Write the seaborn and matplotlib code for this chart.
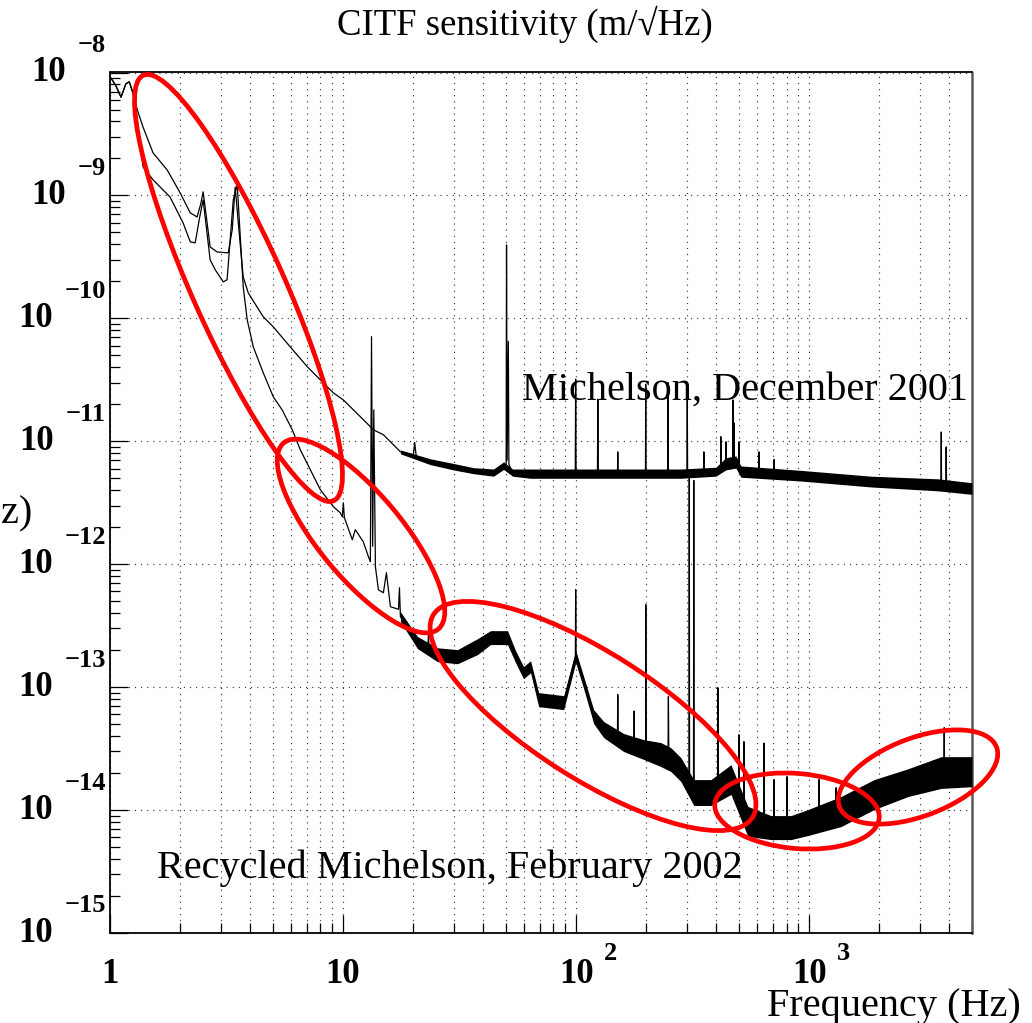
import matplotlib
matplotlib.use("Agg")
import matplotlib.pyplot as plt
import seaborn as sns
from matplotlib.patches import Ellipse
from matplotlib import transforms
from matplotlib.ticker import LogLocator, NullFormatter

# ---------------- data ----------------
mich_freq = [1.01, 1.06, 1.115, 1.17, 1.21, 1.255, 1.31, 1.386, 1.53, 1.76, 2.0, 2.21, 2.365, 2.45, 2.51,
             2.585, 2.69, 2.88, 3.215, 3.345, 3.445, 3.6, 3.73, 3.92, 4.545, 5.02, 5.935, 7.025, 7.99,
             9.085, 10.03, 12.22, 13.5, 14.9, 17.63, 20.05, 20.3, 20.6, 23.72, 29.79, 36.3, 44.25, 48.86,
             50.1, 50.3, 50.6, 51.2, 51.5, 53.4, 56.1, 63.8, 99.2, 99.6, 100.0, 123.5, 124, 124.5,
             150.5, 151, 151.5, 198.5, 199, 199.5, 247, 248, 249, 299, 300, 301, 352, 353.5, 355,
             398, 417, 418, 420, 438, 439.4, 441, 470, 471, 472, 475, 476, 477, 499, 500, 501, 510,
             608, 609, 610, 706, 707, 708, 923, 1845, 3581, 3680, 3690, 3700, 3860, 3874, 3890, 5000]
mich_amp = [9.0e-9, 7.8e-9, 6.3e-9, 8.1e-9, 8.4e-9, 6.8e-9, 4.95e-9, 3.6e-9, 2.22e-9, 1.61e-9, 1.05e-9,
            7.21e-10, 6.68e-10, 8.5e-10, 1.07e-9, 6.94e-10, 3.81e-10, 3.47e-10, 3.41e-10, 5.25e-10, 1.17e-9,
            4.5e-10, 2.17e-10, 1.61e-10, 1.03e-10, 8.53e-11, 5.86e-11, 4.04e-11, 3.16e-11, 2.48e-11,
            2.17e-11, 1.5e-11, 1.24e-11, 1.13e-11, 8.22e-12, 7.77e-12, 9.8e-12, 7.6e-12, 6.81e-12, 6.2e-12,
            5.65e-12, 5.54e-12, 6.2e-12, 6.5e-12, 3.96e-10, 7.0e-12, 6.5e-11, 6.5e-12, 5.54e-12, 5.44e-12,
            5.44e-12, 5.44e-12, 3.2e-11, 5.44e-12, 5.44e-12, 2.2e-11, 5.44e-12, 5.44e-12, 8.2e-12, 5.44e-12,
            5.44e-12, 2.9e-11, 5.44e-12, 5.44e-12, 3.0e-11, 5.44e-12, 5.44e-12, 2.3e-11, 5.44e-12, 5.44e-12,
            8.2e-12, 5.44e-12, 5.6e-12, 6.0e-12, 1.09e-11, 6.0e-12, 6.8e-12, 9.9e-12, 6.8e-12, 6.8e-12,
            2.17e-11, 6.8e-12, 6.8e-12, 1.41e-11, 6.8e-12, 6.3e-12, 9.9e-12, 6.0e-12, 5.6e-12, 5.4e-12,
            8.2e-12, 5.4e-12, 5.35e-12, 7.1e-12, 5.35e-12, 5.25e-12, 4.69e-12, 4.43e-12, 4.43e-12, 1.19e-11,
            4.43e-12, 4.4e-12, 9.0e-12, 4.4e-12, 4.11e-12]

mich_band_freq = [17.63, 23.72, 29.79, 36.3, 44.25, 48.86, 53.4, 63.8, 127.6, 281.5, 398, 439, 485, 510,
                  923, 1845, 3581, 5000]
mich_band_hi = [8.5e-12, 7.2e-12, 6.6e-12, 6.1e-12, 5.95e-12, 6.8e-12, 5.95e-12, 5.95e-12, 5.95e-12,
                5.95e-12, 6.15e-12, 7.35e-12, 7.6e-12, 6.3e-12, 5.8e-12, 5.2e-12, 4.95e-12, 4.6e-12]
mich_band_lo = [7.9e-12, 6.45e-12, 5.85e-12, 5.45e-12, 5.2e-12, 5.9e-12, 5.2e-12, 5.0e-12, 5.0e-12,
                5.0e-12, 5.2e-12, 5.85e-12, 6.05e-12, 5.1e-12, 4.75e-12, 4.25e-12, 3.95e-12, 3.7e-12]

rec_freq = [1.01, 1.06, 1.115, 1.17, 1.21, 1.255, 1.3, 1.386, 1.53, 1.81, 2.06, 2.21, 2.32, 2.42, 2.51,
            2.69, 2.83, 3.06, 3.18, 3.38, 3.515, 3.73, 3.88, 4.12, 4.545, 5.02, 5.48, 6.055, 6.555, 7.235,
            7.99, 9.085, 9.73, 9.93, 10.03, 10.13, 10.96, 11.29, 12.22, 12.85, 13.1, 13.25, 13.4, 13.55,
            13.77, 14.18, 14.9, 15.35, 15.97, 17.3, 17.46, 17.63, 20.86, 23.1, 23.26, 23.4, 25.43, 31.0,
            37.77, 42.95, 50.8, 55.0, 59.5, 63.8, 69.1, 88.5, 99.3, 99.6, 100.0, 107.8, 119, 131.4,
            150.5, 151, 151.5, 160.2, 177, 177.5, 178, 195.2, 199, 199.2, 199.5, 231, 248, 249, 250, 255,
            281.5, 305, 306, 307, 319, 320, 321, 379, 405, 406, 407, 462, 499, 500, 501, 524, 525, 526,
            546, 639, 640, 641, 686, 706, 707, 708, 803, 804, 805, 836, 989, 1102, 1103, 1104, 1304,
            1305, 1306, 1371, 1901, 2661, 3690, 3795, 3800, 3805, 5000]
rec_amp = [9.0e-9, 7.8e-9, 6.3e-9, 8.1e-9, 8.4e-9, 6.8e-9, 4.5e-9, 1.71e-9, 1.34e-9, 9.7e-10, 5.97e-10,
           4.19e-10, 4.11e-10, 6.5e-10, 9.19e-10, 2.99e-10, 2.48e-10, 1.98e-10, 2.06e-10, 9.19e-10, 1.22e-9,
           1.8e-10, 9.72e-11, 5.86e-11, 3.61e-11, 2.3e-11, 1.8e-11, 1.24e-11, 8.53e-12, 5.87e-12, 4.04e-12,
           2.94e-12, 2.62e-12, 2.43e-12, 3.16e-12, 2.4e-12, 1.58e-12, 1.91e-12, 1.52e-12, 1.15e-12,
           1.05e-12, 7.1e-11, 1.4e-12, 1.8e-11, 9.54e-13, 6.2e-13, 5.86e-13, 8.53e-13, 4.51e-13, 4.3e-13,
           6.44e-13, 3.74e-13, 2.3e-13, 2.1e-13, 2.67e-13, 2.05e-13, 1.84e-13, 1.77e-13, 2.13e-13,
           2.52e-13, 2.52e-13, 1.77e-13, 1.31e-13, 1.47e-13, 7.91e-14, 7.48e-14, 1.77e-13, 6.2e-13,
           1.9e-13, 1.09e-13, 5.75e-14, 4.51e-14, 4.2e-14, 8.7e-14, 4.1e-14, 3.54e-14, 3.3e-14, 6.4e-14,
           3.3e-14, 3.1e-14, 3.0e-14, 4.69e-13, 3.0e-14, 2.83e-14, 2.7e-14, 8.4e-14, 2.7e-14, 2.58e-14,
           2.13e-14, 1.8e-14, 5.0e-12, 1.7e-14, 1.4e-14, 4.8e-12, 1.4e-14, 1.39e-14, 1.6e-14, 9.9e-14,
           1.6e-14, 1.77e-14, 1.4e-14, 4.1e-14, 1.3e-14, 1.0e-14, 3.6e-14, 9.5e-15, 8.05e-15, 7.5e-15,
           3.5e-14, 7.5e-15, 7.19e-15, 7.2e-15, 1.77e-14, 7.2e-15, 7.2e-15, 1.87e-14, 7.2e-15, 7.19e-15,
           7.91e-15, 8.2e-15, 1.77e-14, 8.2e-15, 9.3e-15, 1.52e-14, 9.3e-15, 9.72e-15, 1.34e-14, 1.68e-14,
           2.02e-14, 2.03e-14, 4.68e-14, 2.03e-14, 2.06e-14]

rec_band_freq = [17.63, 20.86, 25.43, 31.0, 37.77, 42.95, 50.8, 55.0, 59.5, 63.8, 69.1, 88.5, 99.6, 107.8,
                 119, 131.4, 160.2, 195.2, 231, 255, 281.5, 320, 379, 462, 546, 686, 836, 989, 1371,
                 1901, 2661, 3690, 5000]
rec_band_hi = [4.11e-13, 2.58e-13, 2.09e-13, 2.02e-13, 2.48e-13, 2.88e-13, 2.88e-13, 1.98e-13, 1.47e-13,
               1.64e-13, 9.02e-14, 8.53e-14, 1.98e-13, 1.22e-13, 6.56e-14, 5.25e-14, 4.19e-14, 3.74e-14,
               3.54e-14, 3.22e-14, 2.67e-14, 1.77e-14, 1.77e-14, 2.34e-14, 1.07e-14, 9.02e-15, 9.02e-15,
               1.01e-14, 1.29e-14, 1.77e-14, 2.17e-14, 2.72e-14, 2.72e-14]
rec_band_lo = [3.41e-13, 2.06e-13, 1.61e-13, 1.55e-13, 1.84e-13, 2.22e-13, 2.22e-13, 1.58e-13, 1.17e-13,
               1.31e-13, 6.94e-14, 6.56e-14, 1.58e-13, 9.72e-14, 5.05e-14, 3.88e-14, 2.99e-14, 2.58e-14,
               2.26e-14, 2.06e-14, 1.71e-14, 1.09e-14, 1.09e-14, 1.34e-14, 6.1e-15, 5.75e-15, 5.75e-15,
               6.21e-15, 7.34e-15, 1.01e-14, 1.29e-14, 1.5e-14, 1.55e-14]

y_exponents = [-8, -9, -10, -11, -12, -13, -14, -15]
x_plain_ticks = [1, 10]
x_exp_ticks = [2, 3]

title_text = "CITF sensitivity (m/\u221aHz)"
xlabel_text = "Frequency (Hz)"
ylabel_text = "(m/\u221aHz)"
label_mich = "Michelson, December 2001"
label_rec = "Recycled Michelson, February 2002"

# ---------------- figure ----------------
sns.set_theme(style="white")
plt.rcParams['font.family'] = ['Liberation Serif', 'DejaVu Serif']
plt.rcParams['lines.scale_dashes'] = False

W, H, DPI = 1032, 1023, 100
fig = plt.figure(figsize=(W / DPI, H / DPI), dpi=DPI)
fig.patch.set_facecolor('white')
AX_L, AX_R, AX_T, AX_B = 110, 972, 72.5, 933
ax = fig.add_axes([AX_L / W, 1 - AX_B / H, (AX_R - AX_L) / W, (AX_B - AX_T) / H])
ax.set_facecolor('white')
ax.set_xscale('log')
ax.set_yscale('log')
ax.set_xlim(1, 5000)
ax.set_ylim(1e-15, 1e-8)

# pixel (top-left origin) transform for decorations
PIX = transforms.Affine2D().scale(1 / DPI, -1 / DPI).translate(0, H / DPI) + fig.dpi_scale_trans

# curves
ax.fill_between(mich_band_freq, mich_band_lo, mich_band_hi, color='black', linewidth=0, zorder=3)
ax.fill_between(rec_band_freq, rec_band_lo, rec_band_hi, color='black', linewidth=0, zorder=3)
sns.lineplot(x=mich_freq, y=mich_amp, ax=ax, color='black', linewidth=0.9,
             estimator=None, sort=False, zorder=4)
sns.lineplot(x=rec_freq, y=rec_amp, ax=ax, color='black', linewidth=0.9,
             estimator=None, sort=False, zorder=4)
ax.set_xlim(1, 5000)
ax.set_ylim(1e-15, 1e-8)

# grid
ax.xaxis.set_major_locator(LogLocator(base=10, numticks=20))
ax.xaxis.set_minor_locator(LogLocator(base=10, subs=[2, 3, 4, 5, 6, 7, 8, 9], numticks=40))
ax.yaxis.set_major_locator(LogLocator(base=10, numticks=20))
ax.yaxis.set_minor_locator(LogLocator(base=10, subs=[2, 3, 4, 5, 6, 7, 8, 9], numticks=40))
for axis in (ax.xaxis, ax.yaxis):
    axis.set_major_formatter(NullFormatter())
    axis.set_minor_formatter(NullFormatter())
gstyle = dict(color='0.2', linestyle=(0, (0.8, 3.6)), linewidth=0.85)
ax.grid(True, which='major', axis='both', **gstyle)
ax.grid(True, which='minor', axis='x', **gstyle)
ax.grid(False, which='minor', axis='y')
ax.set_axisbelow(True)

ax.tick_params(which='major', direction='in', length=13, width=0.9, color='black',
               left=True, bottom=True, top=False, right=False)
ax.tick_params(which='minor', direction='in', length=7, width=0.9, color='black',
               left=True, bottom=True, top=False, right=False)
for s in ax.spines.values():
    s.set_color('black')
    s.set_linewidth(1.3)
ax.spines['right'].set_color('0.35')
ax.spines['right'].set_linewidth(1.8)
ax.set_xlabel('')
ax.set_ylabel('')

# tick labels (ROOT style)
bold = dict(fontweight='bold', color='black')
ytrans = ax.get_yaxis_transform()
for e in y_exponents:
    et = ax.text(-4 / (AX_R - AX_L), 10.0 ** e, "\u2212" + str(-e),
                 transform=transforms.offset_copy(ytrans, fig=fig, x=0, y=27, units='dots'),
                 ha='right', va='center', fontsize=19, clip_on=False, **bold)
    ax.annotate("10", xy=(0, 0.5), xycoords=et, xytext=(-12, -27), textcoords='offset pixels',
                ha='right', va='center', fontsize=25, annotation_clip=False, **bold)

xtrans = transforms.offset_copy(ax.get_xaxis_transform(), fig=fig, x=0, y=-41.5, units='dots')
for v in x_plain_ticks:
    ax.text(v, 0, str(v), transform=xtrans, ha='center', va='center', fontsize=25, clip_on=False, **bold)
for e in x_exp_ticks:
    ax.text(10.0 ** e, 0, "10", transform=xtrans, ha='center', va='center', fontsize=25,
            clip_on=False, **bold)
    etr = transforms.offset_copy(ax.get_xaxis_transform(), fig=fig, x=34, y=-20.5, units='dots')
    ax.text(10.0 ** e, 0, str(e), transform=etr, ha='center', va='center', fontsize=19,
            clip_on=False, **bold)

# texts
fig.text(525, 35, title_text, transform=PIX, ha='center', va='baseline', fontsize=26.5, color='black')
fig.text(1021, 1016, xlabel_text, transform=PIX, ha='right', va='baseline', fontsize=29, color='black')
fig.text(33, 523, ylabel_text, transform=PIX, ha='right', va='baseline', fontsize=29, color='black')
fig.text(522, 400, label_mich, transform=PIX, ha='left', va='baseline', fontsize=29, color='black', zorder=6)
fig.text(157, 878, label_rec, transform=PIX, ha='left', va='baseline', fontsize=29, color='black', zorder=6)

# red ellipses (annotation marks), pixel space: cx, cy, width, height, angle
ellipses = [
    (238.5, 288, 466, 92, 65.9),
    (361, 536, 242, 84, 50.3),
    (593, 716, 378, 126, 32.5),
    (797, 811, 165, 75, 5),
    (918, 777, 168, 78, -20.8),
]
for cx, cy, w, h, a in ellipses:
    fig.add_artist(Ellipse((cx, cy), w, h, angle=a, transform=PIX, fill=False,
                           edgecolor='#ff0000', linewidth=3.4, zorder=10))

fig.savefig("out.png", dpi=DPI, facecolor='white')
